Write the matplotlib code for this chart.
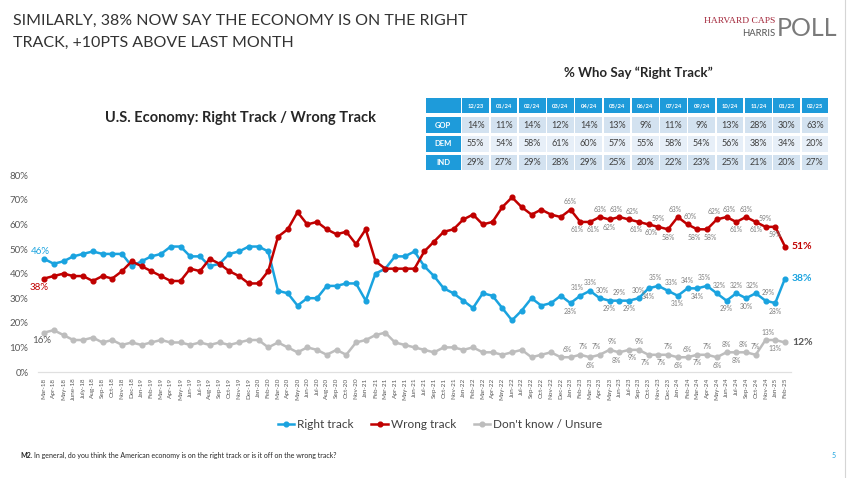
import numpy as np
import matplotlib
matplotlib.use('Agg')
import matplotlib.pyplot as plt
from matplotlib.patches import Rectangle

plt.rcParams['font.family'] = ['Lato', 'DejaVu Sans']

# ---- chart data ----
months = ['Mar-18', 'Apr-18', 'May-18', 'June-18', 'July-18', 'Aug-18', 'Sep-18', 'Oct-18', 'Nov-18', 'Dec-18',
          'Jan-19', 'Feb-19', 'Mar-19', 'Apr-19', 'May-19', 'Jun-19', 'Jul-19', 'Aug-19', 'Sep-19', 'Oct-19',
          'Nov-19', 'Dec-19',
          'Jan-20', 'Feb-20', 'Mar-20', 'Apr-20', 'May-20', 'Jun-20', 'Jul-20', 'Aug-20', 'Sep-20', 'Oct-20', 'Nov-20',
          'Jan-21', 'Feb-21', 'Mar-21', 'Apr-21', 'May-21', 'Jun-21', 'Jul-21', 'Sep-21', 'Oct-21', 'Nov-21',
          'Jan-22', 'Feb-22', 'Mar-22', 'Apr-22', 'May-22', 'Jun-22', 'Jul-22', 'Sep-22', 'Oct-22', 'Nov-22', 'Dec-22',
          'Jan-23', 'Feb-23', 'Mar-23', 'Apr-23', 'May-23', 'Jun-23', 'Jul-23', 'Sep-23', 'Oct-23', 'Nov-23', 'Dec-23',
          'Jan-24', 'Feb-24', 'Mar-24', 'Apr-24', 'May-24', 'Jun-24', 'Jul-24', 'Sep-24', 'Oct-24', 'Nov-24',
          'Jan-25', 'Feb-25']

right_track = [46, 44, 45, 47, 48, 49, 48, 48, 48, 43, 45, 47, 48, 51, 51, 47, 47, 43, 44, 48,
               49, 51, 51, 49, 33, 32, 27, 30, 30, 35, 35, 36, 36, 29, 40, 42, 47, 47, 49, 43,
               39, 34, 32, 29, 26, 32, 31, 26, 21, 25, 30, 27, 28, 31, 28, 31, 33, 30, 29, 29,
               29, 30, 34, 35, 33, 31, 34, 34, 35, 32, 29, 32, 30, 32, 29, 28, 38]
wrong_track = [38, 39, 40, 39, 39, 37, 39, 38, 41, 45, 43, 41, 39, 37, 37, 42, 41, 46, 44, 41,
               39, 36, 36, 41, 55, 58, 65, 60, 61, 58, 56, 57, 52, 58, 45, 42, 42, 42, 42, 49,
               53, 57, 58, 62, 64, 60, 61, 67, 71, 67, 64, 66, 64, 63, 66, 61, 61, 63, 62, 63,
               62, 61, 60, 59, 58, 63, 60, 58, 58, 62, 63, 61, 63, 61, 59, 59, 51]
unsure = [16, 17, 15, 13, 13, 14, 12, 13, 11, 12, 11, 12, 13, 12, 12, 11, 12, 11, 12, 11,
          12, 13, 13, 10, 12, 10, 8, 10, 9, 7, 9, 7, 12, 13, 15, 16, 12, 11, 10, 9,
          8, 10, 10, 9, 10, 8, 8, 7, 8, 9, 6, 7, 8, 6, 6, 7, 6, 7, 9, 8,
          9, 9, 7, 7, 7, 6, 6, 7, 7, 6, 8, 8, 8, 7, 13, 13, 12]

# table "% Who Say Right Track"
tbl_cols = ['12/23', '01/24', '02/24', '03/24', '04/24', '05/24', '06/24', '07/24', '09/24', '10/24', '11/24', '01/25', '02/25']
tbl_rows = ['GOP', 'DEM', 'IND']
gop = [14, 11, 14, 12, 14, 13, 9, 11, 9, 13, 28, 30, 63]
dem = [55, 54, 58, 61, 60, 57, 55, 58, 54, 56, 38, 34, 20]
ind = [29, 27, 29, 28, 29, 25, 20, 22, 23, 25, 21, 20, 27]

# point labels from Jan-23 on; +1 above the point, -1 below (style)
first_lbl = 54
pos_right = [-1, 1, 1, 1, -1, 1, -1, 1, -1, 1, 1, -1, 1, -1, 1, 1, -1, 1, -1, 1, 1, -1]
pos_wrong = [1, -1, -1, 1, -1, 1, 1, -1, -1, 1, -1, 1, 1, -1, -1, 1, 1, -1, 1, -1, 1, -1]
pos_unsure = [1, 1, -1, 1, 1, -1, -1, 1, -1, -1, 1, -1, 1, -1, 1, -1, 1, -1, 1, 1, 1, -1]

BLUE = '#1AA3DF'
RED = '#C00000'
GREY = '#BDBDBD'
TXT = '#7F7F7F'

W, H = 848, 478
fig = plt.figure(figsize=(W / 100, H / 100), dpi=100)
fig.patch.set_facecolor('white')

# background axes in pixel units for slide text and table
bg = fig.add_axes([0, 0, 1, 1], zorder=0)
bg.set_xlim(0, W)
bg.set_ylim(H, 0)
bg.axis('off')

ax = fig.add_axes([38.15 / W, 1 - 372 / H, (790.85 - 38.15) / W, (372 - 175.2) / H], zorder=2)
ax.set_facecolor('none')

x = np.arange(len(months))
series = [(right_track, BLUE, 'Right track', pos_right),
          (wrong_track, RED, 'Wrong track', pos_wrong),
          (unsure, GREY, "Don't know / Unsure", pos_unsure)]
handles = []
for vals, col, name, pos in series:
    h, = ax.plot(x, vals, color=col, lw=1.8, marker='o', ms=3.4, mec=col, mfc=col, label=name, zorder=3)
    handles.append(h)
    n = len(pos)
    for k, p in enumerate(pos):
        i = first_lbl + k
        # nudge neighbouring labels on the same side apart
        dx = 0
        if k > 0 and pos[k - 1] == p:
            dx += 3
        if k < n - 1 and pos[k + 1] == p:
            dx -= 3
        ax.annotate(f'{vals[i]}%', (x[i], vals[i]), xytext=(dx, 8 * p), textcoords='offset pixels',
                    ha='center', va='center', fontsize=4.9, color=TXT, zorder=4)

# start and end labels
ax.annotate(f'{right_track[0]}%', (x[0], right_track[0]), xytext=(-4, 7), textcoords='offset pixels',
            ha='center', va='center', fontsize=7, color=BLUE)
ax.annotate(f'{wrong_track[0]}%', (x[0], wrong_track[0]), xytext=(-5, -9), textcoords='offset pixels',
            ha='center', va='center', fontsize=7, color=RED)
ax.annotate(f'{unsure[0]}%', (x[0], unsure[0]), xytext=(-2, -8), textcoords='offset pixels',
            ha='center', va='center', fontsize=7, color='#595959')
for vals, col in [(right_track, BLUE), (wrong_track, RED), (unsure, '#595959')]:
    ax.annotate(f'{vals[-1]}%', (x[-1], vals[-1]), xytext=(7, 0), textcoords='offset pixels',
                ha='left', va='center', fontsize=7.5, fontweight='bold', color=col)

ax.set_xlim(-0.6, len(months) - 1 + 0.6)
ax.set_ylim(0, 80)
ax.set_yticks(range(0, 81, 10))
ax.set_yticklabels([f'{v}%' for v in range(0, 81, 10)], fontsize=7, color='#595959')
ax.set_xticks(x)
ax.set_xticklabels(months, rotation=90, fontsize=4.6, color='#595959')
ax.tick_params(length=0)
ax.tick_params(axis='y', pad=7)
ax.tick_params(axis='x', pad=4)
for s in ['top', 'right', 'left']:
    ax.spines[s].set_visible(False)
ax.spines['bottom'].set_color('#E0E0E0')
ax.spines['bottom'].set_linewidth(0.9)

# slide title
bg.text(13, 21, 'SIMILARLY, 38% NOW SAY THE ECONOMY IS ON THE RIGHT', fontsize=11.5,
        color='#333333', va='center')
bg.text(13, 43, 'TRACK, +10PTS ABOVE LAST MONTH', fontsize=11.5,
        color='#333333', va='center')

# logo
bg.text(775, 21, 'HARVARD CAPS', family=['Liberation Serif', 'DejaVu Serif'], fontsize=6.8,
        color='#A3273A', ha='right', va='center')
bg.text(775, 33, 'HARRIS', fontsize=6.8, color='#555555', ha='right', va='center')
bg.text(777, 28, 'POLL', fontsize=18, color='#7A7A7A', ha='left', va='center')

# chart subtitle
bg.text(105, 118, 'U.S. Economy: Right Track / Wrong Track', fontsize=10.5, fontweight='bold',
        color='#262626', va='center')

# table
bg.text(638, 73, '% Who Say \u201cRight Track\u201d', fontsize=9.5, fontweight='bold',
        color='#262626', ha='center', va='center')
lab_x, lab_w = 425, 36.5
col_w = (829 - 461.5) / len(tbl_cols)
row_y = [97, 116, 135, 154]
row_h = [17, 18, 18, 17]
head_col = '#1E9BDA'
fills = ['#D3E2F0', '#E7EFF8', '#D3E2F0']
gap = 0.8


def cell(x0, y0, w, h, fc):
    bg.add_patch(Rectangle((x0 + gap, y0 + gap), w - 2 * gap, h - 2 * gap, fc=fc, ec='none'))


cell(lab_x, row_y[0], lab_w, row_h[0], head_col)
for j, c in enumerate(tbl_cols):
    cx = 461.5 + j * col_w
    cell(cx, row_y[0], col_w, row_h[0], head_col)
    bg.text(cx + col_w / 2, row_y[0] + row_h[0] / 2, c, fontsize=4.2, color='white',
            fontweight='bold', ha='center', va='center')
for r, (name, vals) in enumerate(zip(tbl_rows, [gop, dem, ind])):
    y0, h = row_y[r + 1], row_h[r + 1]
    cell(lab_x, y0, lab_w, h, head_col)
    bg.text(lab_x + lab_w / 2, y0 + h / 2, name, fontsize=5.5, color='white', fontweight='bold',
            ha='center', va='center')
    for j, v in enumerate(vals):
        cx = 461.5 + j * col_w
        cell(cx, y0, col_w, h, fills[r])
        bg.text(cx + col_w / 2, y0 + h / 2, f'{v}%', fontsize=6.5, color='#404040',
                ha='center', va='center')

# legend
leg = fig.legend(handles=handles, loc='center', bbox_to_anchor=(440 / W, 1 - 425 / H), ncol=3,
                 frameon=False, fontsize=8.5, handlelength=1.4, handletextpad=0.25, columnspacing=1.5)
for t in leg.get_texts():
    t.set_color('#404040')

# footnote and page number
bg.text(20, 455, 'M2.', fontsize=5, fontweight='bold', color='#262626', va='center')
bg.text(34, 455, 'In general, do you think the American economy is on the right track or is it off on the wrong track?',
        fontsize=5, color='#262626', va='center')
bg.text(832, 455, '5', fontsize=5, color=BLUE, va='center')
bg.plot([845, 845], [0, H], color='#D5D5D5', lw=0.8)

fig.savefig('out.png', dpi=100)
